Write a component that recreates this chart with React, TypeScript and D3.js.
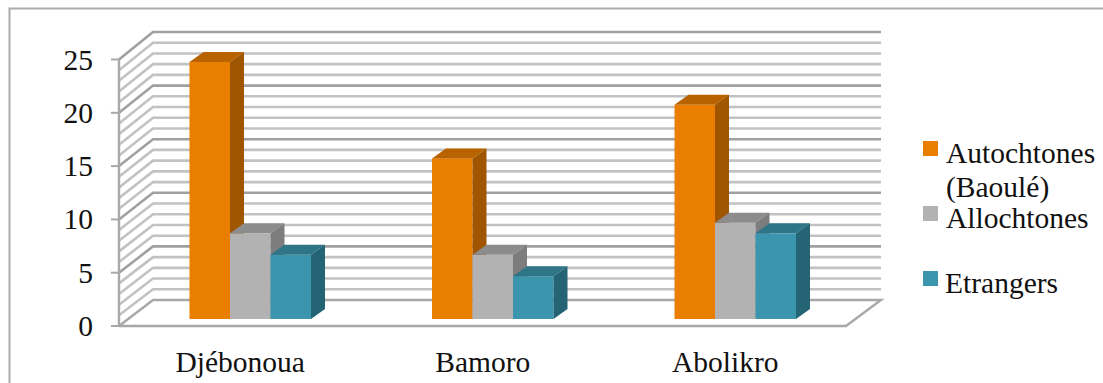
import React from "react";
import * as d3 from "d3";

const categories = ["Djébonoua", "Bamoro", "Abolikro"];
const seriesNames = ["Autochtones", "Allochtones", "Etrangers"];
const autochtones = [24, 15, 20];
const allochtones = [8, 6, 9];
const etrangers = [6, 4, 8];
const yTicks = [0, 5, 10, 15, 20, 25];
const minorTicks = d3.range(0, 26);

const faceColors = ["#E97E00", "#B2B2B2", "#3A95AD"];
const topColors = ["#B86300", "#8C8C8C", "#2D7587"];
const sideColors = ["#A05500", "#7D7D7D", "#256475"];

const serif = "'Liberation Serif', serif";

// Oblique projection: the back wall sits up and to the right of the front edge.
const depthX = 34;
const depthY = 26;
const barDepthX = 14;
const barDepthY = 10;

const yFront = d3.scaleLinear().domain([0, 25]).range([326, 59.5]);
const yBack = d3.scaleLinear().domain([0, 25]).range([300, 32]);
const yBar = d3.scaleLinear().domain([0, 25]).range([319, 62 - (257 / 24)]);
const xBand = d3.scaleBand<string>().domain(categories).range([129, 856.5]).paddingInner(0);
const xInner = d3.scaleBand<string>().domain(seriesNames).range([60.5, 182]);

const values = [autochtones, allochtones, etrangers];

export default function App() {
  const x0 = 119;
  const x1 = 846;
  const backX0 = x0 + depthX;
  const backX1 = x1 + depthX + 1;
  const tickLineWidth = (v: number) => (v % 5 === 0 ? 2.6 : 2.6);
  const tickColor = (v: number) => (v % 5 === 0 ? "#A0A0A0" : "#C2C2C2");

  return (
    <svg
      width={1103}
      height={383}
      style={{ position: "absolute", left: 0, top: 0, background: "#fff" }}
      fontFamily={serif}
    >
      {/* Outer frame, running off the right and bottom edges */}
      <rect x={9.5} y={8.5} width={1200} height={500} fill="none" stroke="#ABABAB" strokeWidth={2} />

      {/* Back wall and side wall gridlines, minor ones first */}
      {minorTicks
        .slice()
        .sort((a, b) => Number(a % 5 === 0) - Number(b % 5 === 0))
        .filter((v) => v !== 0)
        .map((v) => (
          <g key={v} stroke={tickColor(v)} strokeWidth={tickLineWidth(v)} fill="none">
            <polyline
              points={`${x0},${yFront(v)} ${backX0},${yBack(v)} ${backX1},${yBack(v)}`}
            />
          </g>
        ))}

      {/* Floor outline */}
      <polyline
        points={`${x0},${yFront(0)} ${backX0},${yBack(0)} ${backX1},${yBack(0)} ${x1},${yFront(0)} ${x0},${yFront(0)}`}
        fill="none"
        stroke="#A8A8A8"
        strokeWidth={2.4}
      />

      {/* Value axis and its tick marks */}
      <line x1={x0} x2={x0} y1={yFront(25)} y2={yFront(0)} stroke="#A8A8A8" strokeWidth={2.4} />
      {yTicks.map((v) => (
        <g key={v}>
          <line x1={x0 - 8} x2={x0} y1={yFront(v)} y2={yFront(v)} stroke="#A8A8A8" strokeWidth={2} />
          <text x={93} y={yFront(v) + 10} textAnchor="end" fontSize={29.5} fill="#111">
            {v}
          </text>
        </g>
      ))}

      {/* Bars drawn back to front within each cluster, right-most last */}
      {categories.map((c, ci) =>
        seriesNames.map((s, si) => {
          const v = values[si][ci];
          const x = (xBand(c) ?? 0) + (xInner(s) ?? 0);
          const w = xInner.bandwidth();
          const top = yBar(v);
          const base = yBar(0);
          return (
            <g key={c + s}>
              <rect x={x} y={top} width={w} height={base - top} fill={faceColors[si]} />
              <path
                d={`M${x},${top}L${x + barDepthX},${top - barDepthY}L${x + w + barDepthX},${top - barDepthY}L${x + w},${top}Z`}
                fill={topColors[si]}
              />
              <path
                d={`M${x + w},${top}L${x + w + barDepthX},${top - barDepthY}L${x + w + barDepthX},${base - barDepthY}L${x + w},${base}Z`}
                fill={sideColors[si]}
              />
            </g>
          );
        })
      )}

      {/* Category labels */}
      {categories.map((c) => (
        <text
          key={c}
          x={(xBand(c) ?? 0) + xBand.bandwidth() / 2 - 10}
          y={372}
          textAnchor="middle"
          fontSize={29.5}
          fill="#111"
        >
          {c}
        </text>
      ))}

      {/* Legend */}
      <rect x={923} y={141} width={15} height={15} fill={faceColors[0]} />
      <text x={946} y={163} fontSize={29.5} fill="#111">Autochtones</text>
      <text x={946} y={197} fontSize={29.5} fill="#111">(Baoulé)</text>
      <rect x={923} y={206} width={15} height={15} fill={faceColors[1]} />
      <text x={946} y={228} fontSize={29.5} fill="#111">Allochtones</text>
      <rect x={923} y={271} width={15} height={15} fill={faceColors[2]} />
      <text x={945} y={293} fontSize={29.5} fill="#111">Etrangers</text>
    </svg>
  );
}
